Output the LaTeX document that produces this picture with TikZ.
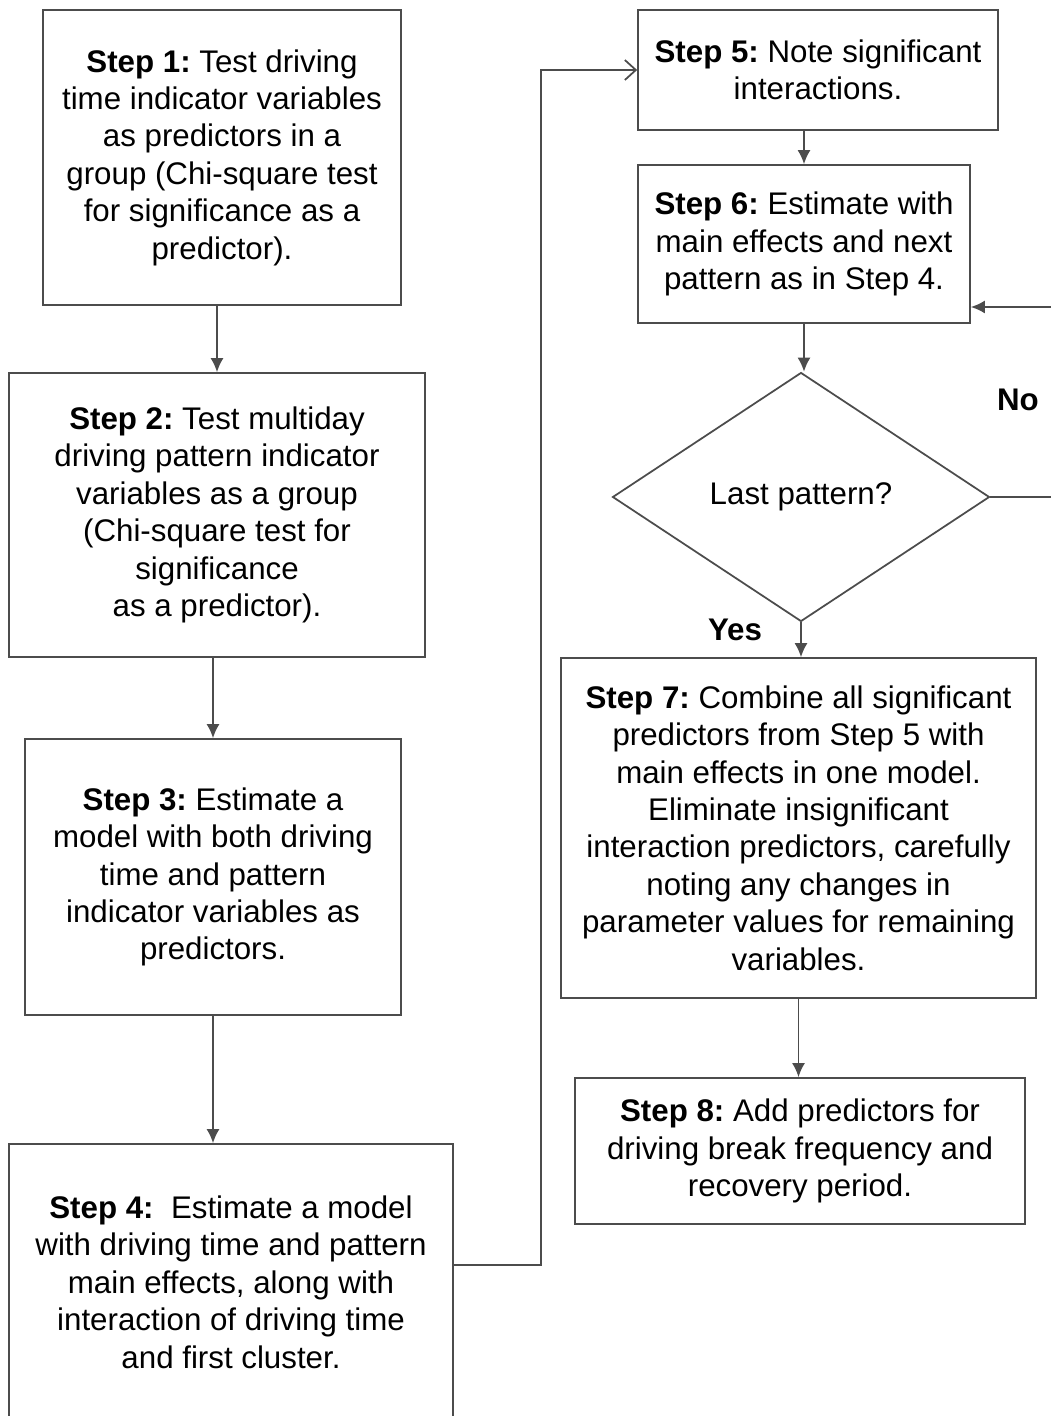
\documentclass[tikz,border=0pt]{standalone}
\usepackage{fontspec}
\setmainfont{Liberation Sans}
\usepackage{xcolor}
\usetikzlibrary{shapes.geometric,arrows.meta}
\frenchspacing

\begin{document}
\begin{tikzpicture}[x=0.02cm,y=-0.02cm,>={Latex[length=0.28cm,width=0.26cm]}]
\tikzstyle{rect}=[draw=black!70, line width=1pt, align=center, inner sep=0pt, font=\fontsize{17.8}{21.3}\selectfont]
\tikzstyle{dec}=[rect, diamond, minimum width=7.54cm, minimum height=4.98cm]
\tikzstyle{conn}=[draw=black!70, line width=1pt]
\tikzstyle{lbl}=[font=\fontsize{17.8}{21.3}\selectfont\bfseries]
\clip (0,0) rectangle (1051,1416);

\node (s1) [rect, minimum width=7.16cm, minimum height=5.9cm] at (222,157.5)
  {\textbf{Step 1:} Test driving\\time indicator variables\\as predictors in a\\group (Chi-square test\\for significance as a\\predictor).};
\node (s2) [rect, minimum width=8.32cm, minimum height=5.68cm] at (217,515)
  {\textbf{Step 2:} Test multiday\\driving pattern indicator\\variables as a group\\(Chi-square test for\\significance\\as a predictor).};
\node (s3) [rect, minimum width=7.52cm, minimum height=5.52cm] at (213,877)
  {\textbf{Step 3:} Estimate a\\model with both driving\\time and pattern\\indicator variables as\\predictors.};
\node (s4) [rect, minimum width=8.88cm, minimum height=5.52cm] at (231,1282)
  {\textbf{Step 4:}\ \ Estimate a model\\with driving time and pattern\\main effects, along with\\interaction of driving time\\and first cluster.};

\node (s5) [rect, minimum width=7.2cm, minimum height=2.4cm] at (818,70)
  {\textbf{Step 5:} Note significant\\interactions.};
\node (s6) [rect, minimum width=6.64cm, minimum height=3.16cm] at (804,244)
  {\textbf{Step 6:} Estimate with\\main effects and next\\pattern as in Step 4.};
\node (last) [dec] at (801,497) {Last pattern?};
\node (s7) [rect, minimum width=9.5cm, minimum height=6.8cm] at (798.5,828)
  {\textbf{Step 7:} Combine all significant\\predictors from Step 5 with\\main effects in one model.\\Eliminate insignificant\\interaction predictors, carefully\\noting any changes in\\parameter values for remaining\\variables.};
\node (s8) [rect, minimum width=9cm, minimum height=2.92cm] at (800,1151)
  {\textbf{Step 8:} Add predictors for\\driving break frequency and\\recovery period.};

\node (no) [lbl] at (1018,400) {No};
\node (yes) [lbl] at (735,630) {Yes};

\draw[conn,->] (s2.north |- s1.south) -- (s2.north);
\draw[conn,->] (s3.north |- s2.south) -- (s3.north);
\draw[conn,->] (s3.south) -- (s3.south |- s4.north);
\draw[conn,->] (s6.north |- s5.south) -- (s6.north);
\draw[conn,->] (s6.south) -- (s6.south |- last.north);
\draw[conn,->] (last.south) -- (last.south |- s7.north);
\draw[conn,->] (s7.south) -- (s7.south |- s8.north);

\draw[conn,-{Straight Barb[length=0.22cm,width=0.4cm]}] ([yshift=0.34cm]s4.east) -- ++(1.74cm,0) |- (s5.west);
\draw[conn,->] (last.east) -- ++(1.5cm,0) |- ([yshift=-1.26cm]s6.east);
\end{tikzpicture}
\end{document}
